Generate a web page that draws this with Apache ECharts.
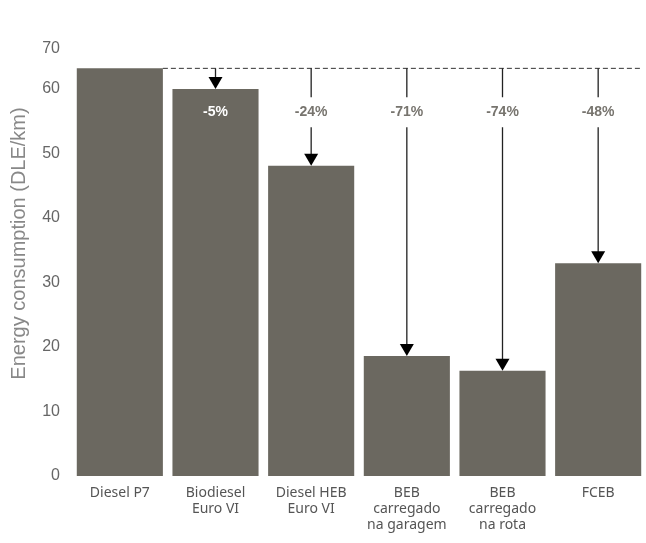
<!DOCTYPE html>
<html>
<head>
<meta charset="utf-8">
<script src="https://cdn.jsdelivr.net/npm/echarts@6/dist/echarts.min.js"></script>
<style>html,body{margin:0;padding:0;background:#fff}#c{width:646px;height:543px}</style>
</head>
<body>
<div id="c"></div>
<script>
const categories = ['Diesel P7', 'Biodiesel\nEuro VI', 'Diesel HEB\nEuro VI', 'BEB\ncarregado\nna garagem', 'BEB\ncarregado\nna rota', 'FCEB'];
const values = [63.2, 60.0, 48.1, 18.6, 16.3, 33.0];
const changeLabels = ['', '-5%', '-24%', '-71%', '-74%', '-48%'];
const yTickLabels = ['0', '10', '20', '30', '40', '50', '60', '70'];
const yMax = 66.2;
const labelLevel = 56.4;
const baseline = values[0];

const BAR_COLOR = '#6b6860';
const chart = echarts.init(document.getElementById('c'));

const arrowData = [];
for (let i = 1; i < values.length; i++) arrowData.push([i, baseline, values[i], changeLabels[i]]);

function renderArrow(params, api) {
  const i = api.value(0);
  const top = api.coord([i, api.value(1)]);
  const end = api.coord([i, api.value(2)]);
  const lab = api.coord([i, labelLevel]);
  const ah = 12, aw = 14;
  const inside = labelLevel < api.value(2);
  const x = end[0];
  const children = [
    { type: 'line', shape: { x1: x, y1: top[1], x2: x, y2: end[1] - ah + 1 }, style: { stroke: '#222', lineWidth: 1.3 } },
    { type: 'polygon', shape: { points: [[x - aw / 2, end[1] - ah], [x + aw / 2, end[1] - ah], [x, end[1]]] }, style: { fill: '#000' } },
    { type: 'text', x: x, y: lab[1], style: inside ? {
        text: api.value(3), fill: '#fff', font: 'bold 14px "Liberation Sans", sans-serif', align: 'center', verticalAlign: 'middle'
      } : {
        text: api.value(3), fill: '#77746e', font: 'bold 14px "Liberation Sans", sans-serif', align: 'center', verticalAlign: 'middle',
        backgroundColor: '#fff', padding: [8, 3]
      }
    }
  ];
  return { type: 'group', children: children };
}

function renderDash(params, api) {
  const p = api.coord([api.value(0), api.value(1)]);
  const bw = api.size([1, 0])[0] * 0.9;
  const gridRight = params.coordSys.x + params.coordSys.width;
  return { type: 'line', shape: { x1: p[0] + bw / 2, y1: p[1], x2: gridRight - 5, y2: p[1] },
    style: { stroke: '#333', lineWidth: 1, lineDash: [5, 3] } };
}

chart.setOption({
  animation: false,
  grid: { left: 72, right: 0, top: 49, bottom: 67, containLabel: false, outerBoundsMode: 'none' },
  xAxis: {
    type: 'category', data: categories,
    axisLine: { show: false }, axisTick: { show: false },
    axisLabel: { color: '#555', fontSize: 14, lineHeight: 16, margin: 9, fontFamily: 'Noto Sans', interval: 0 }
  },
  yAxis: {
    type: 'value', min: 0, max: yMax, interval: 10,
    splitLine: { show: false }, axisLine: { show: false }, axisTick: { show: false },
    axisLabel: { color: '#666', fontSize: 16, margin: 12, fontFamily: 'Liberation Sans',
      formatter: function (v) { return v > 60 ? yTickLabels[7] : yTickLabels[Math.round(v / 10)]; } },
    name: 'Energy consumption (DLE/km)', nameLocation: 'middle', nameGap: 43,
    nameTextStyle: { color: '#888', fontSize: 20, fontFamily: 'Liberation Sans', padding: [0, 0, 0, 38] }
  },
  series: [
    { type: 'bar', data: values, barCategoryGap: '10%', itemStyle: { color: BAR_COLOR }, z: 1 },
    { type: 'custom', data: [[0, baseline]], renderItem: renderDash, z: 3, silent: true },
    { type: 'custom', data: arrowData, renderItem: renderArrow, z: 4, silent: true }
  ]
});
</script>
</body>
</html>
